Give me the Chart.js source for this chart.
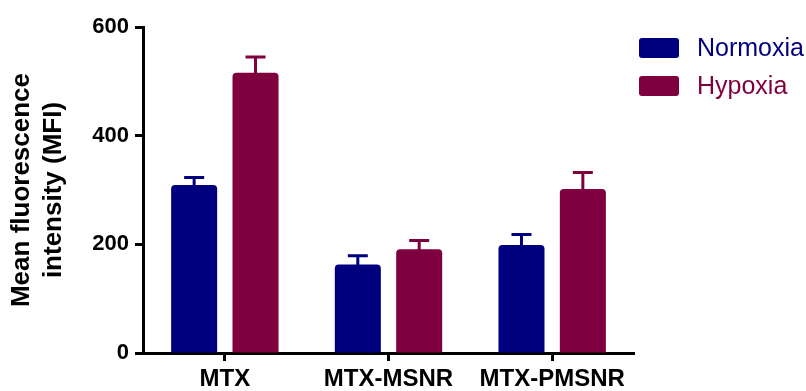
<!DOCTYPE html>
<html>
<head>
<meta charset="utf-8">
<script src="https://cdn.jsdelivr.net/npm/chart.js@4.4.1/dist/chart.umd.min.js"></script>
<style>
  html, body { margin: 0; padding: 0; background: #ffffff; }
  #wrap { width: 806px; height: 391px; position: relative; }
</style>
</head>
<body>
<div id="wrap"><canvas id="mfi"></canvas></div>
<script>
// Groups on the x axis
const categories = ['MTX', 'MTX-MSNR', 'MTX-PMSNR'];

// Mean fluorescence intensity per group
const normoxiaMean = [309, 163, 199];
const hypoxiaMean  = [516, 191, 302];

// Upper error (SD) per group
const normoxiaErr = [14, 16, 19];
const hypoxiaErr  = [29, 16, 30];

// Y axis ticks
const yTicks = [0, 200, 400, 600];

const NAVY = '#00007f';
const WINE = '#7f003f';
const FONT = '"Liberation Sans", Arial, Helvetica, sans-serif';

// Upward error bars with a cap, drawn on top of each bar
const errorBars = {
  id: 'errorBars',
  afterDatasetsDraw(chart) {
    const ctx = chart.ctx;
    const y = chart.scales.y;
    chart.data.datasets.forEach((ds, i) => {
      const meta = chart.getDatasetMeta(i);
      meta.data.forEach((bar, j) => {
        const top = y.getPixelForValue(ds.data[j]);
        const capY = y.getPixelForValue(ds.data[j] + ds.errUp[j]);
        ctx.save();
        ctx.strokeStyle = ds.backgroundColor;
        ctx.lineWidth = 3;
        ctx.lineCap = 'butt';
        ctx.beginPath();
        ctx.moveTo(bar.x, top + 1);
        ctx.lineTo(bar.x, capY);
        ctx.moveTo(bar.x - 10, capY);
        ctx.lineTo(bar.x + 10, capY);
        ctx.stroke();
        ctx.restore();
      });
    });
  }
};

// Legend at the upper right: rounded swatch plus coloured label
const sideLegend = {
  id: 'sideLegend',
  afterDraw(chart) {
    const ctx = chart.ctx;
    const x0 = 639, y0 = 38, rowGap = 38, boxW = 40, boxH = 20;
    chart.data.datasets.forEach((ds, i) => {
      const yy = y0 + i * rowGap;
      ctx.save();
      ctx.fillStyle = ds.backgroundColor;
      ctx.beginPath();
      ctx.roundRect(x0, yy, boxW, boxH, 3);
      ctx.fill();
      ctx.font = '25px ' + FONT;
      ctx.textBaseline = 'middle';
      ctx.textAlign = 'left';
      ctx.fillText(ds.label, x0 + 58, yy + boxH / 2 + 1);
      ctx.restore();
    });
  }
};

new Chart(document.getElementById('mfi'), {
  type: 'bar',
  data: {
    labels: categories,
    datasets: [
      {
        label: 'Normoxia',
        data: normoxiaMean,
        errUp: normoxiaErr,
        backgroundColor: NAVY,
        borderRadius: { topLeft: 4, topRight: 4 },
        borderSkipped: 'bottom',
        categoryPercentage: 0.75,
        barPercentage: 0.75
      },
      {
        label: 'Hypoxia',
        data: hypoxiaMean,
        errUp: hypoxiaErr,
        backgroundColor: WINE,
        borderRadius: { topLeft: 4, topRight: 4 },
        borderSkipped: 'bottom',
        categoryPercentage: 0.75,
        barPercentage: 0.75
      }
    ]
  },
  options: {
    responsive: true,
    maintainAspectRatio: false,
    animation: false,
    devicePixelRatio: 1,
    layout: { padding: { top: 27, right: 172, bottom: 0, left: 0 } },
    plugins: {
      legend: { display: false },
      tooltip: { enabled: false }
    },
    scales: {
      x: {
        offset: true,
        grid: {
          offset: false,
          drawOnChartArea: false,
          drawTicks: true,
          tickLength: 8,
          tickWidth: 3,
          tickColor: '#000000'
        },
        border: { display: true, color: '#000000', width: 3 },
        ticks: {
          color: '#000000',
          padding: 4,
          font: { family: FONT, size: 24, weight: 'bold' },
          maxRotation: 0,
          autoSkip: false
        },
        afterFit(scale) { scale.height = 38; }
      },
      y: {
        min: 0,
        max: 600,
        afterBuildTicks(scale) { scale.ticks = yTicks.map(v => ({ value: v })); },
        grid: {
          drawOnChartArea: false,
          drawTicks: true,
          tickLength: 8,
          tickWidth: 3,
          tickColor: '#000000'
        },
        border: { display: true, color: '#000000', width: 3 },
        ticks: {
          color: '#000000',
          padding: 6,
          font: { family: FONT, size: 22, weight: 'bold' }
        },
        title: {
          display: true,
          text: ['Mean fluorescence', 'intensity (MFI)'],
          color: '#000000',
          font: { family: FONT, size: 26, weight: 'bold', lineHeight: 1.23 },
          padding: { top: 6, bottom: 0 }
        },
        afterFit(scale) { scale.width = 143; }
      }
    }
  },
  plugins: [errorBars, sideLegend]
});
</script>
</body>
</html>
